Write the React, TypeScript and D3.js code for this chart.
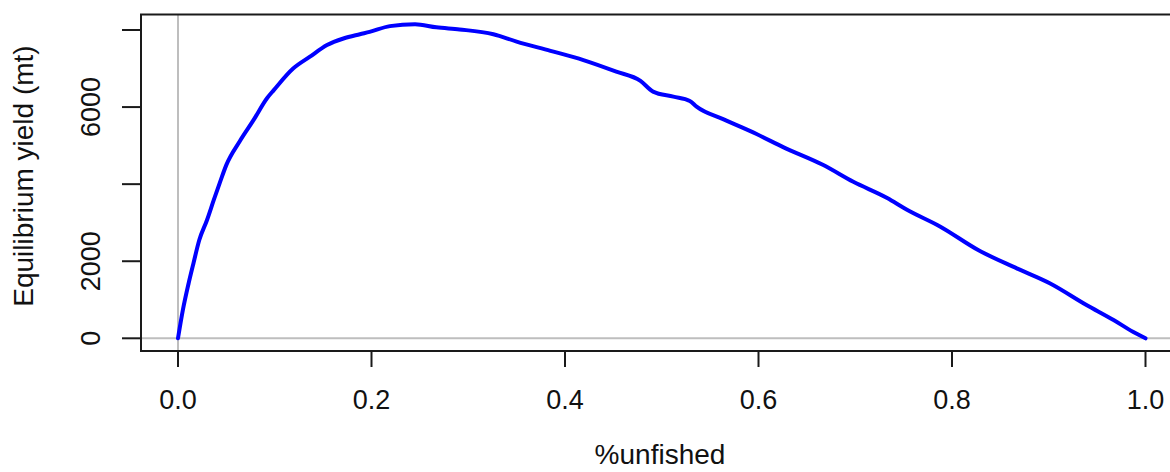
import React from "react";
import * as d3 from "d3";

const unfished: number[] = [
  0, 0.005, 0.011, 0.016, 0.022, 0.03, 0.037, 0.043, 0.05, 0.064, 0.078, 0.092, 0.099,
  0.119, 0.136, 0.154, 0.171, 0.188, 0.198, 0.219, 0.245, 0.267, 0.291, 0.326, 0.35,
  0.385, 0.419, 0.453, 0.478, 0.491, 0.512, 0.529, 0.536, 0.564, 0.598, 0.626, 0.667,
  0.698, 0.733, 0.753, 0.788, 0.827, 0.867, 0.901, 0.939, 0.967, 0.987, 1.0,
];
const yieldMt: number[] = [
  0, 730, 1430, 1950, 2550, 3070, 3590, 4020, 4500, 5120, 5660, 6230, 6440,
  7000, 7300, 7610, 7780, 7890, 7950, 8100, 8150, 8070, 8015, 7890, 7700,
  7460, 7220, 6920, 6680, 6400, 6270, 6160, 6010, 5680, 5300, 4955, 4495,
  4060, 3640, 3340, 2895, 2290, 1815, 1430, 865, 475, 170, 0,
];
const xTicks: number[] = [0, 0.2, 0.4, 0.6, 0.8, 1.0];
const yTicks: number[] = [0, 2000, 4000, 6000, 8000];
const yTickLabels: string[] = ["0", "2000", "", "6000", ""];
const xLabel = "%unfished";
const yLabel = "Equilibrium yield (mt)";

const W = 1170;
const H = 472;
const FONT = "'Liberation Sans', Arial, sans-serif";

export default function App() {
  const x = d3.scaleLinear().domain([0, 1]).range([178, 1145.5]);
  const y = d3.scaleLinear().domain([0, 8000]).range([338.3, 30]);
  const box = { left: 141, top: 14.5, right: 1190, bottom: 351 };
  const pts: [number, number][] = unfished.map((u, i) => [u, yieldMt[i]]);
  const line = d3
    .line<[number, number]>()
    .x((d) => x(d[0]))
    .y((d) => y(d[1]))
    .curve(d3.curveMonotoneX);

  return (
    <svg
      width={W}
      height={H}
      style={{ position: "absolute", left: 0, top: 0, background: "#fff" }}
      fontFamily={FONT}
    >
      <rect x={0} y={0} width={W} height={H} fill="#fff" />
      <line x1={x(0)} x2={x(0)} y1={box.top} y2={box.bottom} stroke="#bebebe" strokeWidth={2} />
      <line x1={box.left} x2={box.right} y1={y(0)} y2={y(0)} stroke="#bebebe" strokeWidth={2} />
      <path d={line(pts) || ""} fill="none" stroke="#0000ff" strokeWidth={4} strokeLinejoin="round" strokeLinecap="round" />
      <rect
        x={box.left}
        y={box.top}
        width={box.right - box.left}
        height={box.bottom - box.top}
        fill="none"
        stroke="#1a1a1a"
        strokeWidth={2}
      />
      {xTicks.map((t) => (
        <g key={"x" + t}>
          <line x1={x(t)} x2={x(t)} y1={box.bottom} y2={box.bottom + 16} stroke="#1a1a1a" strokeWidth={2} />
          <text x={x(t)} y={409} textAnchor="middle" fontSize={27} fill="#111">
            {t.toFixed(1)}
          </text>
        </g>
      ))}
      {yTicks.map((t, i) => (
        <g key={"y" + t}>
          <line x1={box.left - 19} x2={box.left} y1={y(t)} y2={y(t)} stroke="#1a1a1a" strokeWidth={2} />
          {yTickLabels[i] && (
            <text
              transform={`translate(100,${y(t)}) rotate(-90)`}
              textAnchor="middle"
              fontSize={27}
              fill="#111"
            >
              {yTickLabels[i]}
            </text>
          )}
        </g>
      ))}
      <text x={660} y={464} textAnchor="middle" fontSize={28} fill="#111">
        {xLabel}
      </text>
      <text transform={`translate(33,176) rotate(-90)`} textAnchor="middle" fontSize={28} fill="#111">
        {yLabel}
      </text>
    </svg>
  );
}
